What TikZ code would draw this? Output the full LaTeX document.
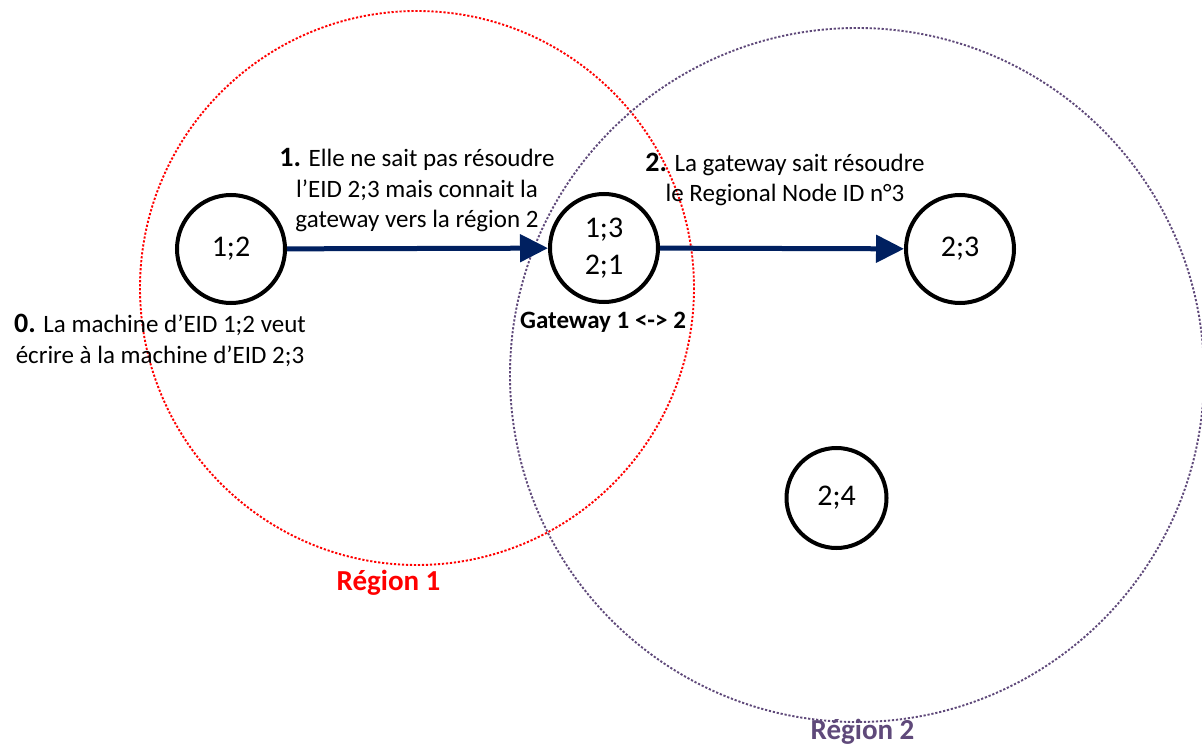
\documentclass[tikz,border=0pt]{standalone}
\usepackage{fontspec}
\setmainfont{Carlito}
\usetikzlibrary{arrows.meta}
\definecolor{navy}{HTML}{002060}
\definecolor{rtwo}{HTML}{5F497A}
\newcommand\stepnum[1]{{\fontsize{28}{30.5}\selectfont\bfseries #1}}
\begin{document}
\begin{tikzpicture}[x=1pt,y=-1pt,
  machine/.style={circle,draw=black,line width=4pt,minimum size=108pt,inner sep=0pt,font=\fontsize{30}{37}\selectfont,align=center},
  lbl/.style={align=center,font=\fontsize{25}{30.5}\selectfont,inner sep=0pt},
  flow/.style={draw=navy,line width=5pt,-{Triangle[length=28pt,width=27pt]}},
  region/.style={line width=1.9pt,dash pattern=on 2.2pt off 1.8pt},
  regname/.style={font=\fontsize{29}{32}\selectfont\bfseries,inner sep=0pt,anchor=base}]
\useasboundingbox (0,0) rectangle (1202,746);
\draw[region,red] (417,288) circle[radius=277];
\draw[region,rtwo] (857,375) circle[radius=347];
\node[machine] (n12) at (231,249) {1;2};
\node[machine] (gw) at (604,248) {1;3\\2;1};
\node[machine] (n23) at (960,249) {2;3};
\node[machine,minimum size=100pt] (n24) at (836.5,498) {2;4};
\draw[flow] (n12) -- (gw);
\draw[flow] (gw) -- (n23);
\node[lbl,anchor=base] (t1) at (417,228) {\stepnum{1.} Elle ne sait pas résoudre\\ l’EID 2;3 mais connait la\\ gateway vers la région 2};
\node[lbl,anchor=base] (t0) at (160,363) {\stepnum{0.} La machine d’EID 1;2 veut\\ écrire à la machine d’EID 2;3};
\node[lbl,anchor=base] (t2) at (785,202) {\stepnum{2.} La gateway sait résoudre\\ le Regional Node ID n°3};
\node[inner sep=0pt,anchor=base,font=\fontsize{25}{28}\selectfont\bfseries] (gwl) at (603,328) {Gateway 1 <-> 2};
\node[regname,text=red] (r1) at (388.5,590) {Région 1};
\node[regname,text=rtwo] (r2) at (862.5,739) {Région 2};
\end{tikzpicture}
\end{document}
